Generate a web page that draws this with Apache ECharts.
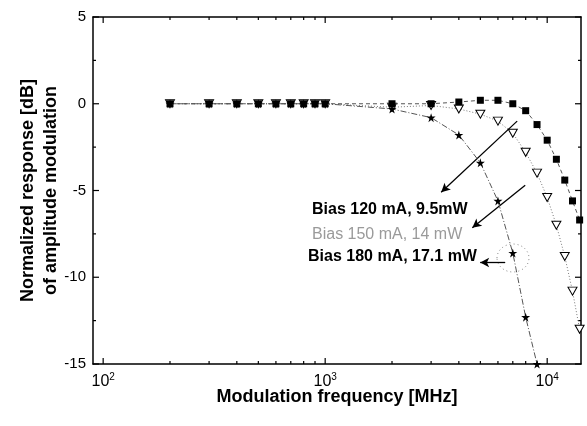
<!DOCTYPE html>
<html>
<head>
<meta charset="utf-8">
<script src="https://cdn.jsdelivr.net/npm/echarts@6/dist/echarts.min.js"></script>
<style>
  html, body { margin: 0; padding: 0; background: #fff; }
  #chart { width: 587px; height: 426px; }
</style>
</head>
<body>
<div id="chart"></div>
<script>
// modulation frequency [MHz]
const freq = [200, 300, 400, 500, 600, 700, 800, 900, 1000, 2000, 3000, 4000, 5000, 6000, 7000, 8000, 9000, 10000, 11000, 12000, 13000, 14000]
// normalized response [dB]
const bias120 = [0, 0, 0, 0, 0, 0, 0, 0, 0, -0.3, -0.8, -1.8, -3.4, -5.6, -8.6, -12.3, -15.0]
const bias150 = [0, 0, 0, 0, 0, 0, 0, 0, 0, -0.2, -0.1, -0.3, -0.6, -1.0, -1.7, -2.8, -4.0, -5.4, -7.0, -8.8, -10.8, -13.0]
const bias180 = [0, 0, 0, 0, 0, 0, 0, 0, 0, 0, 0, 0.1, 0.2, 0.2, 0, -0.4, -1.2, -2.1, -3.2, -4.4, -5.6, -6.7]

const xMin = 90
const xMax = 14200
const majorFreq = [100, 1000, 10000]
const minorFreq = [200, 300, 400, 500, 600, 700, 800, 900, 2000, 3000, 4000, 5000, 6000, 7000, 8000, 9000]
const yTicks = { min: -15, max: 5, interval: 5 }
const yMajor = [-15, -10, -5, 0, 5]
const yMinor = [-12.5, -7.5, -2.5, 2.5]

// arrows, [from, to] in data coords
const arrows = [
  [[7325, -1.0], [3330, -5.1]],
  [[7960, -4.7], [4600, -7.15]],
  [[6470, -9.15], [4990, -9.15]]
]

const pair = arr => arr.map((v, i) => [freq[i], v])
const starPath = 'path://M50,0 L61,35 L98,35 L68,57 L79,91 L50,70 L21,91 L32,57 L2,35 L39,35 Z'
const font = 'Liberation Sans, Arial'

const chart = echarts.init(document.getElementById('chart'))

const frameLine = { show: true, onZero: false, lineStyle: { color: '#000', width: 1.5 } }

// inward tick marks on all four sides, placed through the axes' scales
const tickLine = (x1, y1, x2, y2) => ({
  type: 'line', shape: { x1: x1, y1: y1, x2: x2, y2: y2 },
  style: { stroke: '#000', lineWidth: 1.2 }
})

const xTickData = majorFreq.map(f => [f, yTicks.min, 6]).concat(minorFreq.map(f => [f, yTicks.min, 3]))
const yTickData = yMajor.map(v => [xMin, v, 6]).concat(yMinor.map(v => [xMin, v, 3]))

const renderXTick = (params, api) => {
  const cs = params.coordSys
  const x = api.coord([api.value(0), api.value(1)])[0]
  const len = api.value(2)
  const bottom = cs.y + cs.height
  return {
    type: 'group',
    children: [tickLine(x, bottom, x, bottom - len), tickLine(x, cs.y, x, cs.y + len)]
  }
}

const renderYTick = (params, api) => {
  const cs = params.coordSys
  const y = api.coord([api.value(0), api.value(1)])[1]
  const len = api.value(2)
  const right = cs.x + cs.width
  return {
    type: 'group',
    children: [tickLine(cs.x, y, cs.x + len, y), tickLine(right, y, right - len, y)]
  }
}

const option = {
  animation: false,
  grid: {
    left: 93, right: 6, top: 17, bottom: 62,
    outerBoundsMode: 'none'
  },
  xAxis: [
    {
      type: 'log', logBase: 10, position: 'bottom',
      min: xMin, max: xMax,
      axisLine: frameLine,
      splitLine: { show: false },
      axisTick: { show: false },
      axisLabel: {
        customValues: majorFreq,
        margin: 8,
        color: '#000',
        fontSize: 16,
        fontFamily: font,
        formatter: v => '10{sup|' + Math.round(Math.log10(v)) + '}',
        rich: { sup: { fontSize: 10, color: '#000', fontFamily: font, verticalAlign: 'bottom', padding: [0, 0, 9, 0] } }
      },
      name: 'Modulation frequency [MHz]',
      nameLocation: 'middle',
      nameGap: 24,
      nameMoveOverlap: false,
      nameTextStyle: { fontSize: 18, fontWeight: 'bold', color: '#000', fontFamily: font }
    },
    {
      type: 'log', logBase: 10, position: 'top',
      min: xMin, max: xMax,
      axisLine: frameLine,
      splitLine: { show: false },
      axisTick: { show: false },
      axisLabel: { show: false }
    }
  ],
  yAxis: [
    {
      type: 'value', position: 'left',
      min: yTicks.min, max: yTicks.max, interval: yTicks.interval,
      axisLine: frameLine,
      splitLine: { show: false },
      axisTick: { show: false },
      axisLabel: { color: '#000', fontSize: 15, margin: 7, fontFamily: font },
      name: 'Normalized response [dB]\nof amplitude modulation',
      nameLocation: 'middle',
      nameGap: 30,
      nameMoveOverlap: false,
      nameRotate: 90,
      nameTextStyle: { fontSize: 18, fontWeight: 'bold', color: '#000', lineHeight: 23, fontFamily: font }
    },
    {
      type: 'value', position: 'right',
      min: yTicks.min, max: yTicks.max, interval: yTicks.interval,
      axisLine: frameLine,
      splitLine: { show: false },
      axisTick: { show: false },
      axisLabel: { show: false }
    }
  ],
  series: [
    {
      type: 'custom', name: 'xTicks', silent: true,
      data: xTickData, renderItem: renderXTick, encode: { x: 0, y: 1 }, z: 1
    },
    {
      type: 'custom', name: 'yTicks', silent: true,
      data: yTickData, renderItem: renderYTick, encode: { x: 0, y: 1 }, z: 1
    },
    {
      name: 'Bias 150 mA',
      type: 'line',
      data: pair(bias150),
      symbol: 'triangle', symbolRotate: 180, symbolSize: [9, 8],
      itemStyle: { color: '#fff', borderColor: '#000', borderWidth: 1 },
      lineStyle: { color: '#777', width: 1, type: [1, 2] },
      clip: false, z: 3
    },
    {
      name: 'Bias 180 mA',
      type: 'line',
      data: pair(bias180),
      symbol: 'rect', symbolSize: 7,
      itemStyle: { color: '#000' },
      lineStyle: { color: '#555', width: 1, type: [4, 3] },
      clip: false, z: 4
    },
    {
      name: 'Bias 120 mA',
      type: 'line',
      data: pair(bias120),
      symbol: starPath, symbolSize: 9,
      itemStyle: { color: '#000' },
      lineStyle: { color: '#555', width: 1, type: [6, 2, 1, 2] },
      clip: false, z: 5,
      markLine: {
        silent: true,
        symbol: ['none', 'arrow'],
        symbolSize: [7, 9],
        label: { show: false },
        lineStyle: { color: '#000', width: 1.3, type: 'solid' },
        data: arrows.map(a => [{ coord: a[0] }, { coord: a[1] }])
      }
    }
  ],
  graphic: [
    {
      type: 'text', left: 312, top: 202,
      style: { text: 'Bias 120 mA, 9.5mW', fontSize: 16, fontWeight: 'bold', fill: '#000', fontFamily: font }
    },
    {
      type: 'text', left: 312, top: 227,
      style: { text: 'Bias 150 mA, 14 mW', fontSize: 16, fill: '#9a9a9a', fontFamily: font }
    },
    {
      type: 'text', left: 308, top: 249,
      style: { text: 'Bias 180 mA, 17.1 mW', fontSize: 16, fontWeight: 'bold', fill: '#000', fontFamily: font }
    },
    {
      type: 'ellipse', shape: { cx: 513, cy: 258, rx: 16, ry: 14 },
      style: { fill: 'none', stroke: '#888', lineWidth: 1, lineDash: [1, 3] }
    }
  ]
}

chart.setOption(option)
</script>
</body>
</html>
